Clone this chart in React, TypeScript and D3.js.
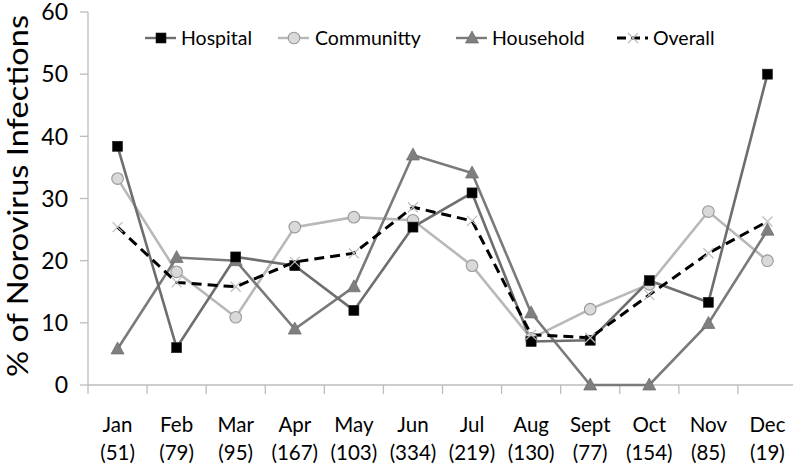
import React from "react";
import * as d3 from "d3";

const months = ["Jan", "Feb", "Mar", "Apr", "May", "Jun", "Jul", "Aug", "Sept", "Oct", "Nov", "Dec"];
const counts = ["(51)", "(79)", "(95)", "(167)", "(103)", "(334)", "(219)", "(130)", "(77)", "(154)", "(85)", "(19)"];
const hospital = [38.4, 6, 20.6, 19.2, 12, 25.4, 30.9, 7, 7.2, 16.8, 13.3, 50];
const community = [33.2, 18.2, 10.9, 25.4, 27, 26.5, 19.2, 7.5, 12.2, 16.2, 27.9, 20];
const household = [5.8, 20.5, 20, 9, 15.8, 37, 34.1, 11.6, 0, 0, 9.9, 24.9];
const overall = [25.4, 16.5, 15.8, 19.8, 21.2, 28.6, 26.4, 8.1, 7.6, 14.5, 21.2, 26.3];
const yTicks = [0, 10, 20, 30, 40, 50, 60];
const legendNames = ["Hospital", "Communitty", "Household", "Overall"];

const FONT = "Lato, 'Open Sans', sans-serif";

export default function App() {
  const W = 800, H = 467;
  const x0 = 88, x1 = 797, yTop = 12, yBot = 385;
  const x = d3.scaleBand<string>().domain(months).range([x0, x1]);
  const y = d3.scaleLinear().domain([0, 60]).range([yBot, yTop]);
  const cx = (i: number) => (x(months[i]) as number) + x.bandwidth() / 2;
  const line = (vals: number[]) =>
    d3.line<number>().x((_, i) => cx(i)).y((v) => y(v))(vals) as string;

  const square = (px: number, py: number, k: string) => (
    <rect key={k} x={px - 5} y={py - 5} width={10} height={10} fill="#000" stroke="#222" strokeWidth={0.6} />
  );
  const circle = (px: number, py: number, k: string) => (
    <circle key={k} cx={px} cy={py} r={5.8} fill="#d9d9d9" stroke="#999" strokeWidth={1.1} />
  );
  const tri = (px: number, py: number, k: string) => (
    <path key={k} d={`M${px},${py - 7}L${px + 6.5},${py + 5}L${px - 6.5},${py + 5}Z`} fill="#7f7f7f" stroke="#6a6a6a" strokeWidth={0.7} />
  );
  const cross = (px: number, py: number, k: string) => (
    <path key={k} d={`M${px - 5},${py - 5}L${px + 5},${py + 5}M${px - 5},${py + 5}L${px + 5},${py - 5}`} stroke="#bbb" strokeWidth={1.2} />
  );

  const legendItems = [
    { lx: 145, tx: 181, color: "#6e6e6e", dash: undefined, mk: square },
    { lx: 278, tx: 315, color: "#b8b8b8", dash: undefined, mk: circle },
    { lx: 456, tx: 492, color: "#7a7a7a", dash: undefined, mk: tri },
    { lx: 617, tx: 653, color: "#000", dash: "9,5", mk: cross },
  ];

  return (
    <svg width={W} height={H} style={{ position: "absolute", left: 0, top: 0, background: "#fff" }}>
      {/* axes */}
      <line x1={x0} x2={x0} y1={yTop} y2={yBot} stroke="#bdbdbd" strokeWidth={1.3} />
      <line x1={x0} x2={x1 - 4} y1={yBot} y2={yBot} stroke="#bdbdbd" strokeWidth={1.3} />
      {yTicks.map((t) => (
        <g key={t}>
          <line x1={x0 - 8} x2={x0} y1={y(t)} y2={y(t)} stroke="#bdbdbd" strokeWidth={1.3} />
          <text x={x0 - 20} y={y(t)} dy="0.36em" textAnchor="end" fontFamily={FONT} fontSize={23} fill="#000">
            {t}
          </text>
        </g>
      ))}
      {months.map((m) => (
        <line key={"tk" + m} x1={x(m) as number} x2={x(m) as number} y1={yBot} y2={yBot + 9} stroke="#bdbdbd" strokeWidth={1.3} />
      ))}
      {months.map((m, i) => (
        <g key={"lbl" + m} fontFamily={FONT} fontSize={20.5} fill="#000" textAnchor="middle">
          <text x={cx(i)} y={432}>{m}</text>
          <text x={cx(i)} y={460}>{counts[i]}</text>
        </g>
      ))}
      <text transform={`translate(28,196) rotate(-90)`} textAnchor="middle" fontFamily={FONT} fontSize={28} fill="#000"
        textLength={362} lengthAdjust="spacingAndGlyphs">
        % of Norovirus Infections
      </text>

      {/* series */}
      <path d={line(community)} fill="none" stroke="#b8b8b8" strokeWidth={2.6} />
      <path d={line(household)} fill="none" stroke="#7a7a7a" strokeWidth={2.6} />
      <path d={line(hospital)} fill="none" stroke="#6e6e6e" strokeWidth={2.6} />
      <path d={line(overall)} fill="none" stroke="#000" strokeWidth={3} strokeDasharray="10,6" />
      {household.map((v, i) => tri(cx(i), y(v), "h" + i))}
      {community.map((v, i) => circle(cx(i), y(v), "c" + i))}
      {hospital.map((v, i) => square(cx(i), y(v), "s" + i))}
      {overall.map((v, i) => cross(cx(i), y(v), "o" + i))}

      {/* legend */}
      {legendItems.map((it, i) => (
        <g key={"lg" + i}>
          <line x1={it.lx} x2={it.lx + 31} y1={38} y2={38} stroke={it.color} strokeWidth={it.dash ? 3 : 2.4} strokeDasharray={it.dash} />
          {it.mk(it.lx + 16, 38, "lm" + i)}
          <text x={it.tx} y={38} dy="0.36em" fontFamily={FONT} fontSize={19.5} fill="#000">
            {legendNames[i]}
          </text>
        </g>
      ))}
    </svg>
  );
}
